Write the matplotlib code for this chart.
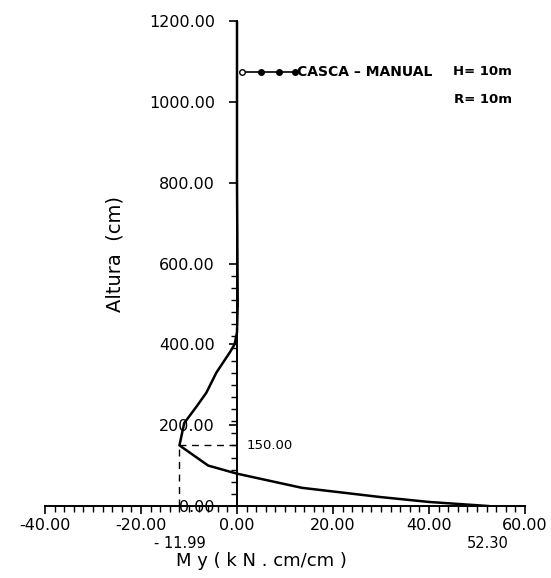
import numpy as np
import matplotlib
matplotlib.use('Agg')
import matplotlib.pyplot as plt
from matplotlib.ticker import FixedLocator, FormatStrFormatter

# Momento My ao longo da altura (casca, calculo manual)
my_values = [0.0, 0.0, 0.1, 0.15, 0.0, -0.5, -1.5, -4.3, -6.4, -8.5, -11.0, -11.99,
             -6.0, 0.0, 13.5, 30.0, 40.0, 52.30]
altura = [1200, 800, 600, 500, 430, 400, 380, 330, 280, 245, 205, 150,
          100, 80, 45, 22, 10, 0]

x_major = [-40, -20, 0, 20, 40, 60]
y_major = [0, 200, 400, 600, 800, 1000, 1200]
y_minor = list(range(0, 601, 30))

min_my = -11.99
min_alt = 150.0
max_my = 52.30

fig = plt.figure(figsize=(5.51, 5.78), dpi=100)
ax = fig.add_axes([45 / 551, 72 / 578, 480 / 551, 485 / 578])
ax.set_xlim(-40, 60)
ax.set_ylim(0, 1200)

for s in ['top', 'right']:
    ax.spines[s].set_visible(False)
ax.spines['left'].set_position(('data', 0))
ax.spines['bottom'].set_position(('data', 0))
ax.spines['left'].set_linewidth(1.4)
ax.spines['bottom'].set_linewidth(1.4)

ax.plot(my_values, altura, color='black', lw=1.8)

# linhas tracejadas no ponto de minimo
ax.plot([min_my, 0], [min_alt, min_alt], color='black', lw=1, ls=(0, (5, 4)))
ax.plot([min_my, min_my], [0, min_alt], color='black', lw=1, ls=(0, (5, 4)))

ax.xaxis.set_major_locator(FixedLocator(x_major))
ax.xaxis.set_minor_locator(FixedLocator(np.arange(-40, 61, 2)))
ax.yaxis.set_major_locator(FixedLocator(y_major))
ax.yaxis.set_minor_locator(FixedLocator(y_minor))
ax.xaxis.set_major_formatter(FormatStrFormatter('%.2f'))
ax.yaxis.set_major_formatter(FormatStrFormatter('%.2f'))
ax.tick_params(axis='both', which='major', direction='out', length=6, width=1.2,
               labelsize=11.5, colors='black')
ax.tick_params(axis='both', which='minor', direction='out', length=4, width=1)
ax.tick_params(axis='y', pad=10)
ax.tick_params(axis='x', pad=3)

ax.text(2, min_alt, '150.00', fontsize=9.5, va='center', ha='left')
ax.text(min_my, -92, '- 11.99', fontsize=10.5, ha='center', va='center')
ax.text(max_my, -92, '52.30', fontsize=10.5, ha='center', va='center')

ax.set_xlabel('M y ( k N . cm/cm )', fontsize=13)
ax.xaxis.set_label_coords(0.45, -0.095)
ax.set_ylabel('Altura  (cm)', fontsize=14)
ax.yaxis.set_label_coords(0.165, 0.52)

# legenda desenhada como no original
leg_x = [1.0, 5.0, 8.8, 12.0]
leg_y = [1075, 1075, 1075, 1075]
ax.plot(leg_x, leg_y, color='black', lw=1.2)
ax.plot(leg_x[:1], leg_y[:1], 'o', mfc='white', mec='black', ms=4)
ax.plot(leg_x[1:], leg_y[1:], 'o', color='black', ms=4)
ax.text(12.5, 1075, 'CASCA – MANUAL', fontsize=10, va='center', ha='left', weight='bold')
ax.text(45.0, 1075, 'H= 10m', fontsize=9.5, va='center', ha='left', weight='bold')
ax.text(45.3, 1005, 'R= 10m', fontsize=9.5, va='center', ha='left', weight='bold')

fig.savefig('out.png', dpi=100)
